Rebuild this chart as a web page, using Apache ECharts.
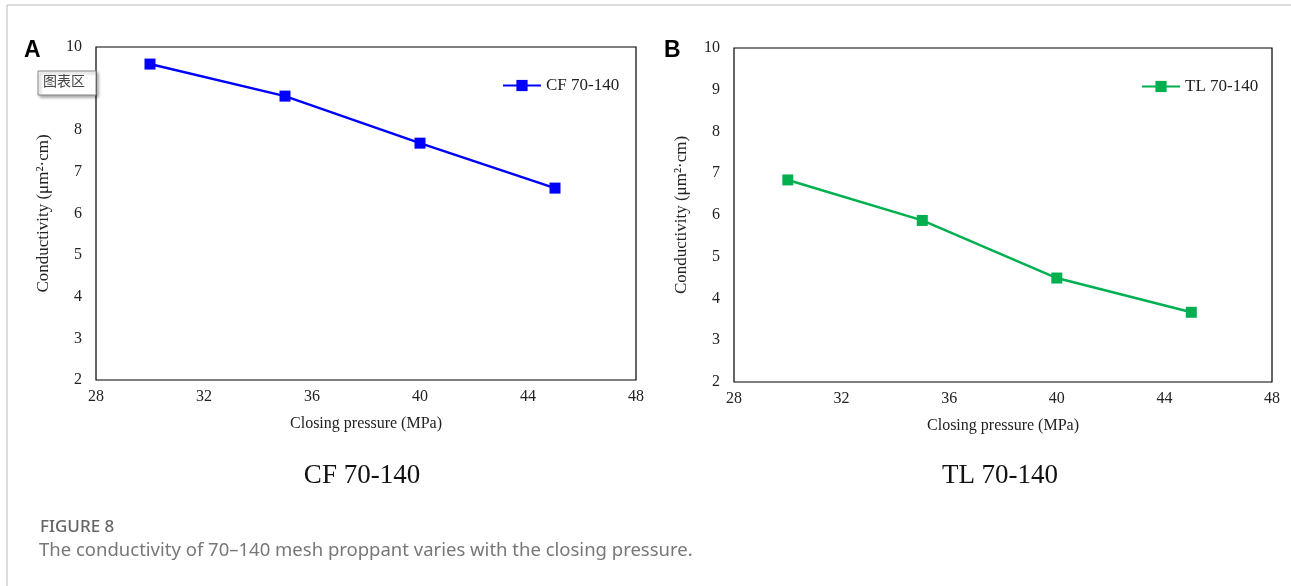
<!DOCTYPE html>
<html>
<head>
<meta charset="utf-8">
<script src="https://cdn.jsdelivr.net/npm/echarts@6/dist/echarts.min.js"></script>
<style>
  html, body { margin: 0; padding: 0; background: #fff; }
  #main { width: 1291px; height: 586px; }
</style>
</head>
<body>
<div id="main"></div>
<script>
// 数据
var pressure = [30, 35, 40, 45];
var cfValues = [9.59, 8.82, 7.69, 6.61];
var tlValues = [6.84, 5.87, 4.49, 3.67];
var xTicks = [28, 32, 36, 40, 44, 48];
var yTicks = [2, 3, 4, 5, 6, 7, 8, 9, 10];

function pairs (xs, ys) {
  var out = [];
  for (var i = 0; i < xs.length; i++) {
    out.push([xs[i], ys[i]]);
  }
  return out;
}

var serif = 'Liberation Serif';
var labelStyle = { color: '#222', fontFamily: serif, fontSize: 16 };

function makeX (idx) {
  return {
    type: 'value', gridIndex: idx,
    min: xTicks[0], max: xTicks[xTicks.length - 1], interval: 4,
    name: 'Closing pressure (MPa)', nameLocation: 'middle', nameGap: 36,
    nameTextStyle: { color: '#222', fontFamily: serif, fontSize: 16 },
    axisLine: { show: false }, axisTick: { show: false }, splitLine: { show: false },
    axisLabel: Object.assign({ margin: 9 }, labelStyle)
  };
}
function makeY (idx) {
  return {
    type: 'value', gridIndex: idx,
    min: yTicks[0], max: yTicks[yTicks.length - 1], interval: 1,
    name: 'Conductivity (μm²·cm)', nameLocation: 'middle', nameGap: 44,
    nameTextStyle: { color: '#222', fontFamily: serif, fontSize: 17 },
    axisLine: { show: false }, axisTick: { show: false }, splitLine: { show: false },
    axisLabel: Object.assign({ margin: 14 }, labelStyle)
  };
}

var dom = document.getElementById('main');
var myChart = echarts.init(dom);

var option = {
  animation: false,
  backgroundColor: '#fff',
  grid: [
    { left: 96, top: 47, width: 540, height: 333, show: true, borderColor: '#000', borderWidth: 1.2 },
    { left: 734, top: 48, width: 538, height: 334, show: true, borderColor: '#000', borderWidth: 1.2 }
  ],
  xAxis: [makeX(0), makeX(1)],
  yAxis: [makeY(0), makeY(1)],
  legend: [
    {
      data: ['CF 70-140'], left: 497, top: 72, itemWidth: 38, itemHeight: 14,
      textStyle: { color: '#222', fontFamily: serif, fontSize: 17 }, itemGap: 5
    },
    {
      data: ['TL 70-140'], left: 1136, top: 73, itemWidth: 38, itemHeight: 14,
      textStyle: { color: '#222', fontFamily: serif, fontSize: 17 }, itemGap: 5
    }
  ],
  series: [
    {
      name: 'CF 70-140', type: 'line', xAxisIndex: 0, yAxisIndex: 0,
      data: pairs(pressure, cfValues),
      symbol: 'rect', symbolSize: 11,
      lineStyle: { color: '#0000ff', width: 2.5 },
      itemStyle: { color: '#0000ff' }
    },
    {
      name: 'TL 70-140', type: 'line', xAxisIndex: 1, yAxisIndex: 1,
      data: pairs(pressure, tlValues),
      symbol: 'rect', symbolSize: 11,
      lineStyle: { color: '#00b050', width: 2.5 },
      itemStyle: { color: '#00b050' }
    }
  ],
  graphic: [
    // 外框
    { type: 'line', shape: { x1: 7, y1: 5, x2: 1291, y2: 5 }, style: { stroke: '#d0d0d0', lineWidth: 1.5 } },
    { type: 'line', shape: { x1: 7, y1: 5, x2: 7, y2: 586 }, style: { stroke: '#d0d0d0', lineWidth: 1.5 } },
    { type: 'text', x: 24, y: 39, style: { text: 'A', font: 'bold 23px "Liberation Sans"', fill: '#000' } },
    { type: 'text', x: 664, y: 39, style: { text: 'B', font: 'bold 23px "Liberation Sans"', fill: '#000' } },
    // 图表区 提示框
    {
      type: 'rect', shape: { x: 38, y: 71, width: 58, height: 24 }, z: 100,
      style: { fill: '#fff', stroke: '#888', lineWidth: 1, shadowBlur: 3, shadowOffsetX: 2, shadowOffsetY: 2, shadowColor: 'rgba(0,0,0,0.35)' }
    },
    { type: 'text', x: 43, y: 74, z: 101, style: { text: '图表区', font: '14px "Noto Sans CJK SC"', fill: '#444' } },
    { type: 'text', x: 362, y: 476, style: { text: 'CF 70-140', font: '27px "Liberation Serif"', fill: '#111', textAlign: 'center', textVerticalAlign: 'middle' } },
    { type: 'text', x: 1000, y: 476, style: { text: 'TL 70-140', font: '27px "Liberation Serif"', fill: '#111', textAlign: 'center', textVerticalAlign: 'middle' } },
    { type: 'text', x: 40, y: 527, style: { text: 'FIGURE 8', font: '500 17px "Noto Sans"', fill: '#666', textVerticalAlign: 'middle' } },
    { type: 'text', x: 39, y: 551, style: { text: 'The conductivity of 70–140 mesh proppant varies with the closing pressure.', font: '18.5px "Noto Sans"', fill: '#777', textVerticalAlign: 'middle' } }
  ]
};

myChart.setOption(option);
</script>
</body>
</html>
